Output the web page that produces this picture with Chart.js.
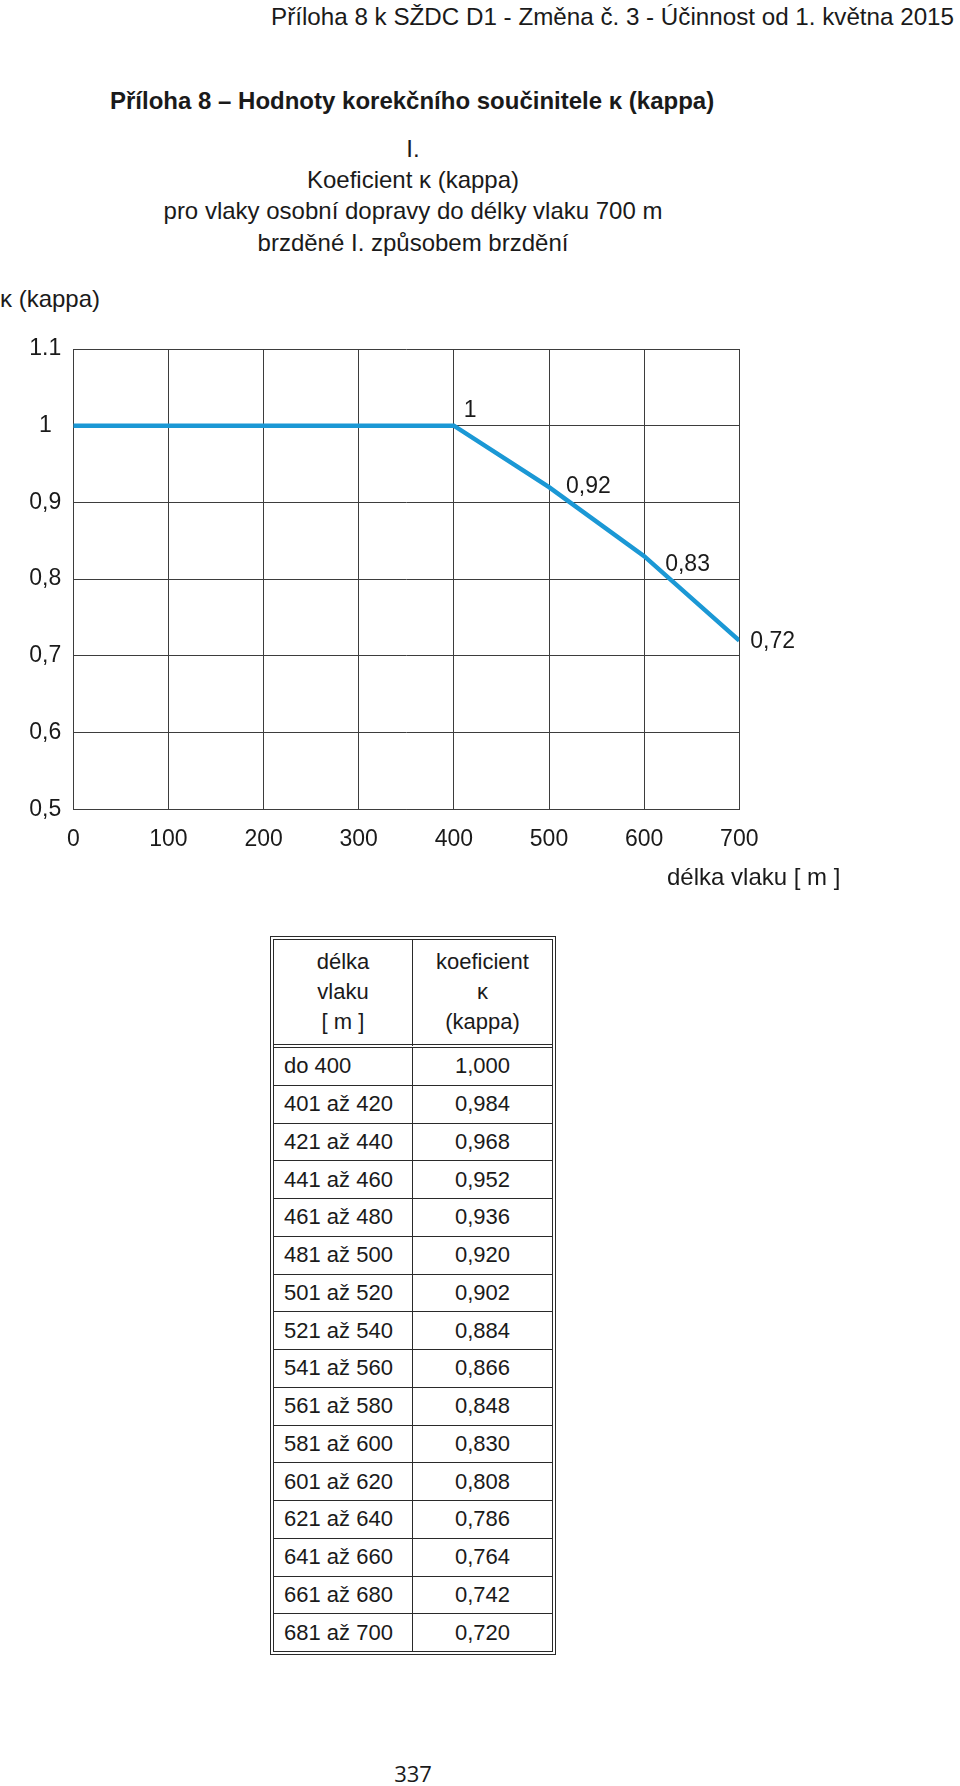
<!DOCTYPE html>
<html lang="cs">
<head>
<meta charset="utf-8">
<title>Příloha 8 – Hodnoty korekčního součinitele κ</title>
<script src="https://cdn.jsdelivr.net/npm/chart.js@4/dist/chart.umd.min.js"></script>
<style>
  html, body { margin: 0; padding: 0; background: #fff; }
  body { position: relative; width: 960px; height: 1786px; font-family: "Liberation Sans", Arial, sans-serif; color: #1a1a1a; }
  .t { position: absolute; font-size: 24px; line-height: 30px; white-space: nowrap; }
  #head { top: 2px; right: 6px; font-size: 24.2px; }
  #title { top: 86px; left: 110px; font-weight: bold; }
  #sub { top: 133px; left: 113px; width: 600px; text-align: center; line-height: 31.2px; }
  #ylab { top: 284px; left: 0; }
  #xlab { top: 862px; left: 667px; }
  #chartBox { position: absolute; left: 0; top: 320px; width: 960px; height: 560px; }
  #tbl { position: absolute; left: 270px; top: 936px; border-collapse: separate; border-spacing: 0;
         border: 4px double #2a2a2a; font-size: 22px; }
  #tbl td { padding: 0; vertical-align: middle; border-bottom: 1px solid #2a2a2a; height: 36.75px; }
  #tbl tr:last-child td { border-bottom: none; }
  #tbl td.c1 { width: 128px; padding-left: 10px; border-right: 1px solid #2a2a2a; }
  #tbl td.c2 { width: 139px; text-align: center; }
  #tbl tr.hd td { height: 104px; line-height: 30px; text-align: center; padding-left: 0; width: 138px;
                  border-bottom: 4px double #2a2a2a; }
  #tbl tr.hd td.c2 { width: 139px; }
  #page { position: absolute; top: 1758px; left: 363px; width: 100px; text-align: center;
          font-family: "Open Sans", sans-serif; font-size: 22px; line-height: 30px; }
</style>
</head>
<body>
<div class="t" id="head">Příloha 8 k SŽDC D1 - Změna č. 3 - Účinnost od 1. května 2015</div>
<div class="t" id="title">Příloha 8 – Hodnoty korekčního součinitele κ (kappa)</div>
<div class="t" id="sub">I.<br>Koeficient κ (kappa)<br>pro vlaky osobní dopravy do délky vlaku 700 m<br>brzděné I. způsobem brzdění</div>
<div class="t" id="ylab">κ (kappa)</div>
<div id="chartBox"><canvas id="kappa-chart" width="960" height="560"></canvas></div>
<div class="t" id="xlab">délka vlaku [ m ]</div>
<table id="tbl"><tbody id="tbody"></tbody></table>
<div id="page">337</div>

<script>
// graf
const trainLength = [0, 400, 500, 600, 700];
const kappa = [1, 1, 0.92, 0.83, 0.72];
const pointLabels = ['', '1', '0,92', '0,83', '0,72'];
const xTickLabels = ['0', '100', '200', '300', '400', '500', '600', '700'];
const yTickLabels = ['0,5', '0,6', '0,7', '0,8', '0,9', '1', '1.1'];

// tabulka
const tableHead = ['délka<br>vlaku<br>[ m ]', 'koeficient<br>κ<br>(kappa)'];
const lengthRanges = ['do 400', '401 až 420', '421 až 440', '441 až 460', '461 až 480', '481 až 500',
  '501 až 520', '521 až 540', '541 až 560', '561 až 580', '581 až 600', '601 až 620',
  '621 až 640', '641 až 660', '661 až 680', '681 až 700'];
const kappaValues = [1.000, 0.984, 0.968, 0.952, 0.936, 0.920, 0.902, 0.884, 0.866, 0.848,
  0.830, 0.808, 0.786, 0.764, 0.742, 0.720];

// posun popisku bodu [dx, dy]
const labelOffsets = [[0, 0], [10, -9], [17, 6], [21, 15], [11, 7]];

const gridColor = '#3d3d3d';
const lineColor = '#1b98d5';

window.onload = function () {
  let html = '<tr class="hd"><td class="c1">' + tableHead[0] + '</td><td class="c2">' + tableHead[1] + '</td></tr>';
  for (let i = 0; i < lengthRanges.length; i++) {
    html += '<tr><td class="c1">' + lengthRanges[i] + '</td><td class="c2">' +
      kappaValues[i].toFixed(3).replace('.', ',') + '</td></tr>';
  }
  document.getElementById('tbody').innerHTML = html;

  const pointText = {
    id: 'pointText',
    afterDatasetsDraw(chart) {
      const ctx = chart.ctx;
      const meta = chart.getDatasetMeta(0);
      ctx.save();
      ctx.font = '23px "Liberation Sans", Arial, sans-serif';
      ctx.fillStyle = '#1a1a1a';
      ctx.textAlign = 'left';
      ctx.textBaseline = 'alphabetic';
      meta.data.forEach(function (pt, i) {
        if (!pointLabels[i]) return;
        ctx.fillText(pointLabels[i], pt.x + labelOffsets[i][0], pt.y + labelOffsets[i][1]);
      });
      ctx.restore();
    }
  };

  Chart.defaults.font.family = '"Liberation Sans", Arial, sans-serif';
  Chart.defaults.color = '#1a1a1a';

  new Chart(document.getElementById('kappa-chart'), {
    type: 'line',
    data: {
      datasets: [{
        data: trainLength.map((x, i) => ({ x: x, y: kappa[i] })),
        borderColor: lineColor,
        borderWidth: 4.5,
        pointRadius: 0,
        fill: false,
        tension: 0
      }]
    },
    options: {
      responsive: false,
      animation: false,
      layout: { padding: { left: 0, top: 29, right: 220.7, bottom: 0 } },
      plugins: { legend: { display: false }, tooltip: { enabled: false } },
      scales: {
        x: {
          type: 'linear',
          min: 0, max: 700,
          afterFit: function (s) { s.height = 70.7; },
          ticks: {
            stepSize: 100,
            padding: 17,
            font: { size: 23 },
            maxRotation: 0,
            callback: (v, i) => xTickLabels[i]
          },
          grid: { color: gridColor, lineWidth: 1, drawTicks: false },
          border: { color: gridColor }
        },
        y: {
          min: 0.5, max: 1.1,
          afterFit: function (s) { s.width = 73.3; },
          ticks: {
            stepSize: 0.1,
            padding: 12,
            crossAlign: 'center',
            font: { size: 23 },
            callback: (v, i) => yTickLabels[i]
          },
          grid: { color: gridColor, lineWidth: 1, drawTicks: false },
          border: { color: gridColor }
        }
      }
    },
    plugins: [pointText]
  });
};
</script>
</body>
</html>
